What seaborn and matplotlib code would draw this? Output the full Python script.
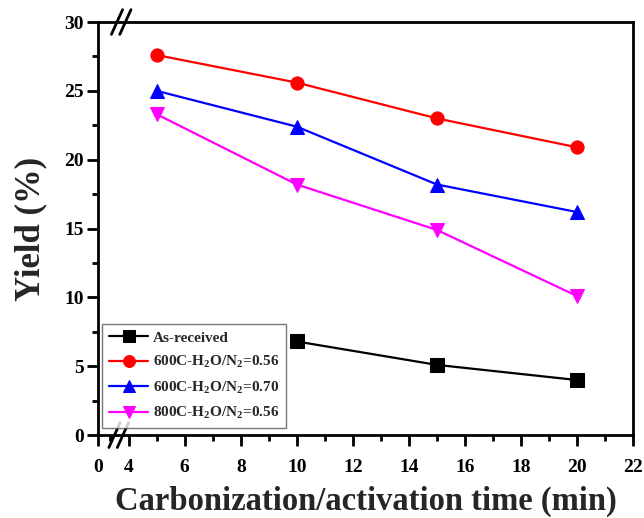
import numpy as np
import pandas as pd
import matplotlib
matplotlib.use("Agg")
import matplotlib.pyplot as plt
import matplotlib.transforms as mtransforms
from matplotlib.ticker import FixedLocator
import seaborn as sns

# Carbonization/activation time (min) and yield (%) for each sample
time_as_received = [10, 15, 20]
yield_as_received = [6.8, 5.1, 4.0]

time_activated = [5, 10, 15, 20]
yield_600_056 = [27.6, 25.6, 23.0, 20.9]
yield_600_070 = [25.0, 22.4, 18.2, 16.2]
yield_800_056 = [23.3, 18.2, 14.9, 10.1]

labels = [
    "As-received",
    "600C-H$_2$O/N$_2$=0.56",
    "600C-H$_2$O/N$_2$=0.70",
    "800C-H$_2$O/N$_2$=0.56",
]
x_major = [0, 4, 6, 8, 10, 12, 14, 16, 18, 20, 22]
x_minor = [1, 5, 7, 9, 11, 13, 15, 17, 19, 21]

sns.set_theme(style="ticks")
plt.rcParams["font.family"] = ["Liberation Serif", "DejaVu Serif"]
plt.rcParams["font.weight"] = "bold"
plt.rcParams["mathtext.fontset"] = "custom"
plt.rcParams["mathtext.rm"] = "Liberation Serif:bold"
plt.rcParams["mathtext.it"] = "Liberation Serif:bold"
plt.rcParams["mathtext.bf"] = "Liberation Serif:bold"

fig = plt.figure(figsize=(6.44, 5.18), dpi=100)
ax = fig.add_axes([0.152, 0.160, 0.831, 0.7975])

# Broken x axis: the 0-4 stretch is compressed
seg_x = np.array([0.0, 1.0, 4.0, 22.0])
seg_p = np.array([0.0, 0.43, 1.1, 19.1])


def fwd(x):
    x = np.asarray(x, dtype=float)
    out = np.interp(x, seg_x, seg_p)
    out = np.where(x > 22, seg_p[-1] + (x - 22), out)
    out = np.where(x < 0, x * 0.43, out)
    return out


def inv(p):
    p = np.asarray(p, dtype=float)
    out = np.interp(p, seg_p, seg_x)
    out = np.where(p > seg_p[-1], 22 + (p - seg_p[-1]), out)
    out = np.where(p < 0, p / 0.43, out)
    return out


ax.set_xscale("function", functions=(fwd, inv))

series = [
    (time_as_received, yield_as_received, labels[0], "black", "s"),
    (time_activated, yield_600_056, labels[1], "#ff0000", "o"),
    (time_activated, yield_600_070, labels[2], "#0000ff", "^"),
    (time_activated, yield_800_056, labels[3], "#ff00ff", "v"),
]
for xs, ys, lab, col, mk in series:
    df = pd.DataFrame({"t": xs, "y": ys})
    sns.lineplot(data=df, x="t", y="y", ax=ax, color=col, marker=mk,
                 markersize=9.5, markeredgecolor=col, linewidth=1.6,
                 label=lab)

ax.set_xlim(0, 22)
ax.set_ylim(0, 30)
ax.xaxis.set_major_locator(FixedLocator(x_major))
ax.xaxis.set_minor_locator(FixedLocator(x_minor))
ax.set_yticks(np.arange(0, 31, 5))
ax.yaxis.set_minor_locator(FixedLocator(np.arange(2.5, 30, 5)))

for s in ax.spines.values():
    s.set_linewidth(2)
    s.set_color("black")
ax.tick_params(axis="both", which="major", direction="out", length=8,
               width=2, labelsize=14, colors="black")
ax.tick_params(axis="y", which="major", pad=2)
ax.tick_params(axis="x", which="major", pad=9)
ax.tick_params(axis="both", which="minor", direction="out", length=4.5,
               width=2, colors="black")
for lbl in ax.get_xticklabels() + ax.get_yticklabels():
    lbl.set_fontweight("bold")

ax.set_xlabel("Carbonization/activation time (min)", fontsize=23.5,
              fontweight="bold", labelpad=7)
ax.set_ylabel("Yield (%)", fontsize=25, fontweight="bold", labelpad=12)

# Break marks on bottom and top axes
trans = mtransforms.blended_transform_factory(ax.transData, ax.transAxes)
for xb, yb in [(2.4, 0.0), (2.8, 1.0)]:
    for dx in (-0.5, 0.5):
        xc = fwd(xb) + dx * 0.3
        x0 = inv(xc - 0.2)
        x1 = inv(xc + 0.2)
        ax.plot([x0, x1], [yb - 0.03, yb + 0.03], color="black", lw=2,
                transform=trans, clip_on=False, zorder=5)

leg = ax.legend(loc="lower left", bbox_to_anchor=(0.0075, 0.017),
                borderaxespad=0,
                prop={"family": "Liberation Serif", "weight": "bold", "size": 11},
                frameon=True, fancybox=False, handlelength=2.6,
                handletextpad=0.3, labelspacing=0.62, borderpad=0.45,
                markerscale=0.9)
leg.get_frame().set_edgecolor("#555555")
leg.get_frame().set_linewidth(1.0)

fig.savefig("out.png", dpi=100)
